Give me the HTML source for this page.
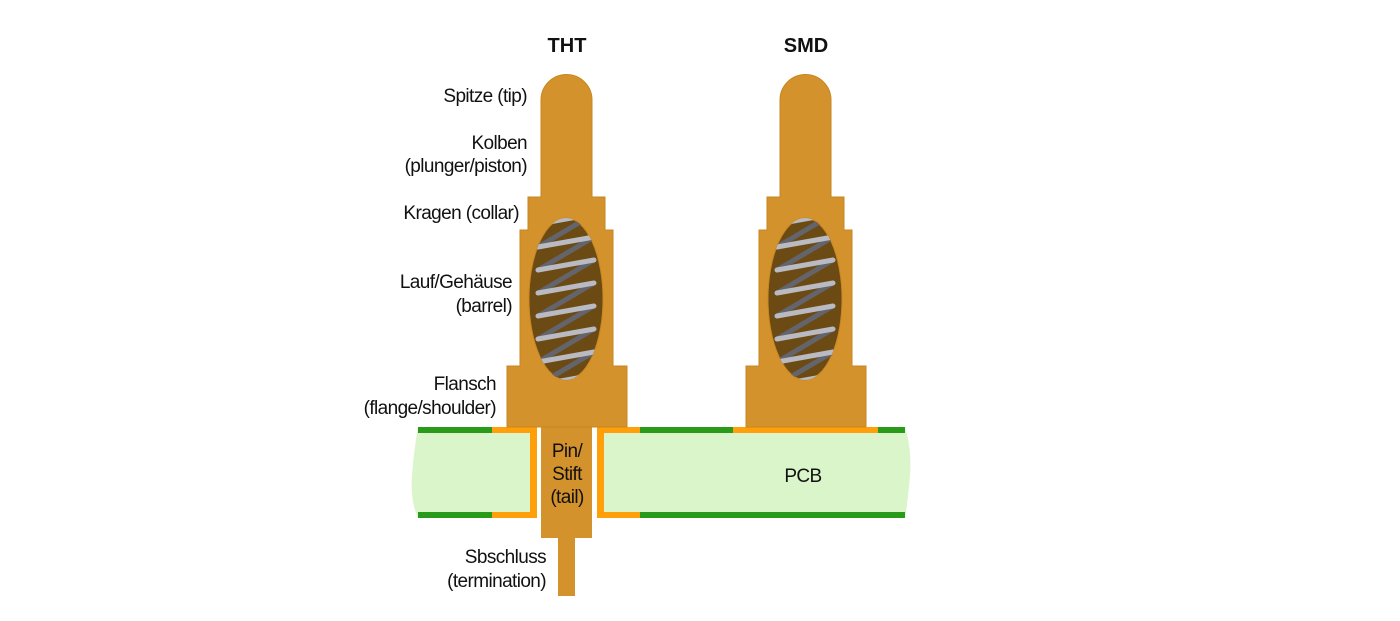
<!DOCTYPE html>
<html><head><meta charset="utf-8"><style>
body{margin:0;background:#fff}
svg{display:block}
text{font-family:"Liberation Sans",sans-serif;font-size:19px;fill:#111}
</style></head><body>
<svg width="1400" height="621" viewBox="0 0 1400 621">
<defs>
<clipPath id="e1"><ellipse cx="566" cy="299" rx="37" ry="81"/></clipPath>
<clipPath id="e2"><ellipse cx="805" cy="299" rx="37" ry="81"/></clipPath>
<g id="spring">
<g stroke="#64646c" stroke-width="5" stroke-linecap="round">
<line x1="594" y1="191" x2="538" y2="224"/>
<line x1="594" y1="214" x2="538" y2="247"/><line x1="594" y1="237" x2="538" y2="270"/>
<line x1="594" y1="260" x2="538" y2="293"/><line x1="594" y1="283" x2="538" y2="316"/>
<line x1="594" y1="306" x2="538" y2="339"/><line x1="594" y1="329" x2="538" y2="362"/>
<line x1="594" y1="352" x2="538" y2="385"/><line x1="594" y1="375" x2="538" y2="408"/>
</g>
<g stroke="#b9bac2" stroke-width="5" stroke-linecap="round">
<line x1="538" y1="224" x2="594" y2="214"/><line x1="538" y1="247" x2="594" y2="237"/>
<line x1="538" y1="270" x2="594" y2="260"/><line x1="538" y1="293" x2="594" y2="283"/>
<line x1="538" y1="316" x2="594" y2="306"/><line x1="538" y1="339" x2="594" y2="329"/>
<line x1="538" y1="362" x2="594" y2="352"/><line x1="538" y1="385" x2="594" y2="375"/>
</g>
</g>
<g id="body">
<path d="M541,100 a25.5,25.5 0 0 1 51,0 V197 H605 V230 H613 V366 H627 V427 H507 V366 H520 V230 H528 V197 H541 Z" fill="#d4922c" stroke="#c9861f" stroke-width="1"/>
<ellipse cx="566" cy="299" rx="37" ry="81" fill="#6b4a14" stroke="#c9861f"/>
</g>
</defs>
<path d="M418,427 H535 V518 H418 Q410,500 412,475 Q414,450 418,427 Z" fill="#d9f5c9"/>
<path d="M599,427 H905 Q912,450 910,475 Q908,500 905,518 H599 Z" fill="#d9f5c9"/>
<rect x="418" y="427" width="74" height="6" fill="#2a9a1a"/>
<rect x="418" y="512" width="74" height="6" fill="#2a9a1a"/>
<path d="M492,427 H537 V518 H492 V512 H530 V433 H492 Z" fill="#ff9f0a"/>
<path d="M597,427 H640 V433 H604 V512 H640 V518 H597 Z" fill="#ff9f0a"/>
<rect x="640" y="427" width="93" height="6" fill="#2a9a1a"/>
<rect x="733" y="427" width="145" height="6" fill="#ff9f0a"/>
<rect x="878" y="427" width="27" height="6" fill="#2a9a1a"/>
<rect x="640" y="512" width="265" height="6" fill="#2a9a1a"/>
<rect x="541" y="420" width="51" height="118" fill="#d4922c"/>
<rect x="558" y="536" width="17" height="60" fill="#d4922c"/>
<use href="#body"/>
<g clip-path="url(#e1)"><use href="#spring"/></g>
<g transform="translate(239,0)"><use href="#body"/></g>
<g clip-path="url(#e2)"><g transform="translate(239,0)"><use href="#spring"/></g></g>
<text x="567" y="52" text-anchor="middle" style="font-weight:bold;font-size:20px">THT</text>
<text x="806" y="52" text-anchor="middle" style="font-weight:bold;font-size:20px">SMD</text>
<g text-anchor="end" style="letter-spacing:-0.6px">
<text x="527" y="102">Spitze (tip)</text>
<text x="527" y="149">Kolben</text>
<text x="527" y="172">(plunger/piston)</text>
<text x="519" y="219">Kragen (collar)</text>
<text x="512" y="288">Lauf/Gehäuse</text>
<text x="512" y="312">(barrel)</text>
<text x="496" y="390">Flansch</text>
<text x="496" y="414">(flange/shoulder)</text>
<text x="546" y="563">Sbschluss</text>
<text x="546" y="587">(termination)</text>
</g>
<g text-anchor="middle" style="letter-spacing:-0.6px">
<text x="567" y="457">Pin/</text>
<text x="567" y="480">Stift</text>
<text x="567" y="503">(tail)</text>
<text x="803" y="482">PCB</text>
</g>
</svg>
</body></html>
